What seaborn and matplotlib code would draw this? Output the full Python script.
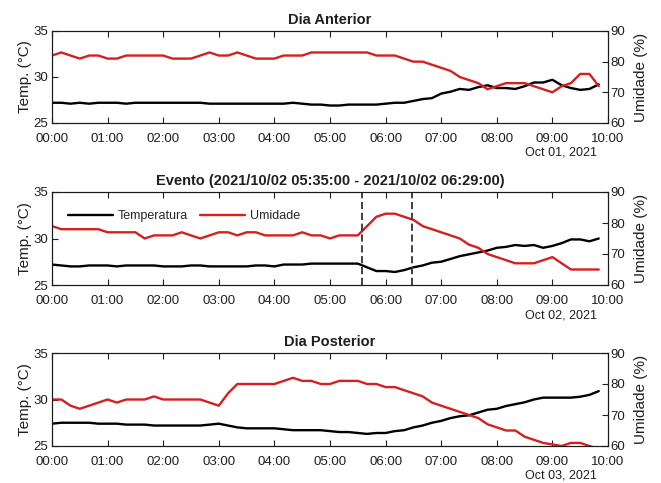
import numpy as np
import pandas as pd
import matplotlib
matplotlib.use("Agg")
import matplotlib.pyplot as plt
from matplotlib.lines import Line2D
import seaborn as sns

# Leituras a cada 10 minutos, das 00:00 às 09:50
minutos = np.arange(0, 600, 10)
horas = minutos / 60.0

titulos = [
    "Dia Anterior",
    "Evento (2021/10/02 05:35:00 - 2021/10/02 06:29:00)",
    "Dia Posterior",
]
datas = ["Oct 01, 2021", "Oct 02, 2021", "Oct 03, 2021"]
rotulos_x = ["00:00", "01:00", "02:00", "03:00", "04:00", "05:00",
             "06:00", "07:00", "08:00", "09:00", "10:00"]

# Dia anterior (01/10)
temp_anterior = [
    27.2, 27.2, 27.1, 27.2, 27.1, 27.2,
    27.2, 27.2, 27.1, 27.2, 27.2, 27.2,
    27.2, 27.2, 27.2, 27.2, 27.2, 27.1,
    27.1, 27.1, 27.1, 27.1, 27.1, 27.1,
    27.1, 27.1, 27.2, 27.1, 27.0, 27.0,
    26.9, 26.9, 27.0, 27.0, 27.0, 27.0,
    27.1, 27.2, 27.2, 27.4, 27.6, 27.7,
    28.2, 28.4, 28.7, 28.6, 28.9, 29.1,
    28.8, 28.8, 28.7, 29.0, 29.4, 29.4,
    29.7, 29.1, 28.8, 28.6, 28.7, 29.2,
]
umid_anterior = [
    82, 83, 82, 81, 82, 82,
    81, 81, 82, 82, 82, 82,
    82, 81, 81, 81, 82, 83,
    82, 82, 83, 82, 81, 81,
    81, 82, 82, 82, 83, 83,
    83, 83, 83, 83, 83, 82,
    82, 82, 81, 80, 80, 79,
    78, 77, 75, 74, 73, 71,
    72, 73, 73, 73, 72, 71,
    70, 72, 73, 76, 76, 72,
]

# Dia do evento (02/10)
temp_evento = [
    27.2, 27.1, 27.0, 27.0, 27.1, 27.1,
    27.1, 27.0, 27.1, 27.1, 27.1, 27.1,
    27.0, 27.0, 27.0, 27.1, 27.1, 27.0,
    27.0, 27.0, 27.0, 27.0, 27.1, 27.1,
    27.0, 27.2, 27.2, 27.2, 27.3, 27.3,
    27.3, 27.3, 27.3, 27.3, 26.9, 26.5,
    26.5, 26.4, 26.6, 26.9, 27.1, 27.4,
    27.5, 27.8, 28.1, 28.3, 28.5, 28.7,
    29.0, 29.1, 29.3, 29.2, 29.3, 29.0,
    29.2, 29.5, 29.9, 29.9, 29.7, 30.0,
]
umid_evento = [
    79, 78, 78, 78, 78, 78,
    77, 77, 77, 77, 75, 76,
    76, 76, 77, 76, 75, 76,
    77, 77, 76, 77, 77, 76,
    76, 76, 76, 77, 76, 76,
    75, 76, 76, 76, 79, 82,
    83, 83, 82, 81, 79, 78,
    77, 76, 75, 73, 72, 70,
    69, 68, 67, 67, 67, 68,
    69, 67, 65, 65, 65, 65,
]
evento_inicio = 5 + 35 / 60
evento_fim = 6 + 29 / 60

# Dia posterior (03/10)
temp_posterior = [
    27.4, 27.5, 27.5, 27.5, 27.5, 27.4,
    27.4, 27.4, 27.3, 27.3, 27.3, 27.2,
    27.2, 27.2, 27.2, 27.2, 27.2, 27.3,
    27.4, 27.2, 27.0, 26.9, 26.9, 26.9,
    26.9, 26.8, 26.7, 26.7, 26.7, 26.7,
    26.6, 26.5, 26.5, 26.4, 26.3, 26.4,
    26.4, 26.6, 26.7, 27.0, 27.2, 27.5,
    27.7, 28.0, 28.2, 28.3, 28.6, 28.9,
    29.0, 29.3, 29.5, 29.7, 30.0, 30.2,
    30.2, 30.2, 30.2, 30.3, 30.5, 30.9,
]
umid_posterior = [
    75, 75, 73, 72, 73, 74,
    75, 74, 75, 75, 75, 76,
    75, 75, 75, 75, 75, 74,
    73, 77, 80, 80, 80, 80,
    80, 81, 82, 81, 81, 80,
    80, 81, 81, 81, 80, 80,
    79, 79, 78, 77, 76, 74,
    73, 72, 71, 70, 69, 67,
    66, 65, 65, 63, 62, 61,
    60.5, 60, 61, 61, 60, 59,
]

temperaturas = [temp_anterior, temp_evento, temp_posterior]
umidades = [umid_anterior, umid_evento, umid_posterior]

sns.set_theme(style="white")
plt.rcParams["font.family"] = ["Liberation Sans", "DejaVu Sans"]
plt.rcParams["axes.edgecolor"] = "#1a1a1a"
plt.rcParams["axes.linewidth"] = 0.8

VERMELHO = "#D42020"
CINZA_TEXTO = "#1f1f1f"

fig = plt.figure(figsize=(6.61, 4.83), dpi=100)

W, H = 661.0, 483.0
esq, dir_ = 52, 608
faixas = [(31, 123), (192, 285), (353, 446)]

for i, (topo, base) in enumerate(faixas):
    rect = [esq / W, 1 - base / H, (dir_ - esq) / W, (base - topo) / H]
    ax = fig.add_axes(rect)
    df = pd.DataFrame({
        "hora": horas,
        "Temperatura": temperaturas[i],
        "Umidade": umidades[i],
    })
    sns.lineplot(data=df, x="hora", y="Temperatura", ax=ax, color="black",
                 linewidth=1.7, legend=False)
    ax2 = ax.twinx()
    sns.lineplot(data=df, x="hora", y="Umidade", ax=ax2, color=VERMELHO,
                 linewidth=1.7, legend=False)

    ax.set_xlim(0, 10)
    ax.set_ylim(25, 35)
    ax2.set_ylim(60, 90)
    ax.set_xticks(range(11))
    ax.set_xticklabels(rotulos_x)
    ax.set_yticks([25, 30, 35])
    ax2.set_yticks([60, 70, 80, 90])
    ax.set_xlabel("")
    ax.set_ylabel("Temp. (°C)", fontsize=11, labelpad=1, color=CINZA_TEXTO)
    ax2.set_ylabel("Umidade (%)", fontsize=11, labelpad=6, rotation=90,
                   color=CINZA_TEXTO)

    ax.tick_params(axis="x", direction="in", top=True, bottom=True,
                   length=4, width=0.8, pad=7, labelsize=9.5,
                   colors=CINZA_TEXTO)
    ax.tick_params(axis="y", direction="in", left=True, right=False,
                   length=4, width=0.8, pad=2.5, labelsize=9.5,
                   colors=CINZA_TEXTO)
    ax2.tick_params(axis="y", direction="in", right=True, left=False,
                    length=4, width=0.8, pad=2, labelsize=9.5,
                    colors=CINZA_TEXTO)

    ax.set_title(titulos[i], fontsize=10.5, fontweight="bold", pad=5,
                 color=CINZA_TEXTO)
    ax.annotate(datas[i], xy=(1, 0), xycoords="axes fraction",
                xytext=(-11, -30), textcoords="offset pixels",
                ha="right", va="center", fontsize=9, color=CINZA_TEXTO)

    if i == 1:
        for t in (evento_inicio, evento_fim):
            ax2.axvline(t, color="#333333", linestyle=(0, (4, 2)),
                        linewidth=1.3)
        handles = [
            Line2D([], [], color="black", linewidth=1.7),
            Line2D([], [], color=VERMELHO, linewidth=1.7),
        ]
        ax2.legend(handles, ["Temperatura", "Umidade"], ncol=2,
                   loc="center left", bbox_to_anchor=(0.029, 0.742),
                   frameon=False, fontsize=9, handlelength=3.6,
                   handletextpad=0.4, columnspacing=0.9,
                   borderpad=0, borderaxespad=0)

fig.savefig("out.png", dpi=100)
